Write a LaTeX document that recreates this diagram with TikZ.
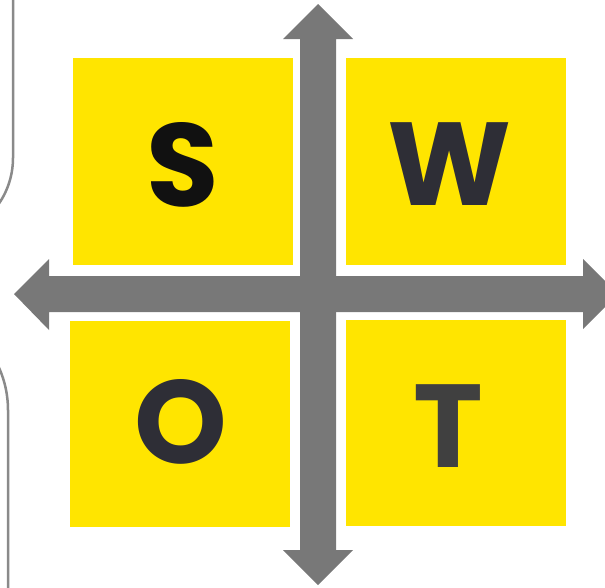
\documentclass[tikz,border=0pt]{standalone}
\usepackage{fontspec}
\newfontfamily\swotfont{Poppins}
\definecolor{swotyellow}{HTML}{FFE500}
\definecolor{arrowgray}{HTML}{787878}
\definecolor{framegray}{HTML}{8A8A8A}
\definecolor{inkblack}{HTML}{111111}
\definecolor{inkdark}{HTML}{2E2E36}
\definecolor{inkgray}{HTML}{404040}
\begin{document}
\begin{tikzpicture}[x=1pt, y=-1pt,
	sqbox/.style={fill=swotyellow, draw=none, inner sep=0pt,
		minimum width=220pt, minimum height=207pt},
	letter/.style={inner sep=0pt, font=\swotfont\bfseries\fontsize{118}{118}\selectfont}]
	
	% Khung hình (cắt theo kích thước ảnh)
	\clip (0,0) rectangle (605,587);
	
	% Đường viền xám bên trái
	\draw[framegray, line width=2.5pt] (13,-5) -- (13,158) arc[start angle=0, end angle=40, radius=81];
	\draw[framegray, line width=2.5pt] (8,592) -- (8,410) arc[start angle=0, end angle=-40, radius=104];
	
	% Bốn ô vuông màu vàng
	\node[sqbox] (sqS) at (183,161.5) {};
	\node[sqbox] (sqW) at (456,161.5) {};
	\node[sqbox, minimum height=206pt] (sqO) at (180,424) {};
	\node[sqbox, minimum height=206pt] (sqT) at (456,423) {};
	
	% Mũi tên dọc (hai đầu)
	\fill[arrowgray] (318,4) -- (353,39) -- (336,39) -- (336,550) -- (353,550)
		-- (318,585) -- (283,550) -- (300,550) -- (300,39) -- (283,39) -- cycle;
	
	% Mũi tên ngang (hai đầu)
	\fill[arrowgray] (14,294) -- (49,259) -- (49,276) -- (583,276) -- (583,259)
		-- (618,294) -- (583,329) -- (583,312) -- (49,312) -- (49,330) -- cycle;
	
	% Các chữ S, W, O, T
	\node[letter, text=inkblack] (labS) at (182.5,165) {S};
	\node[letter, text=inkdark] (labW) at (450,164) {W};
	\node[letter, text=inkdark] (labO) at (180.5,421.5) {O};
	\node[letter, text=inkgray] (labT) at (448.5,426) {T};
	
\end{tikzpicture}
\end{document}
